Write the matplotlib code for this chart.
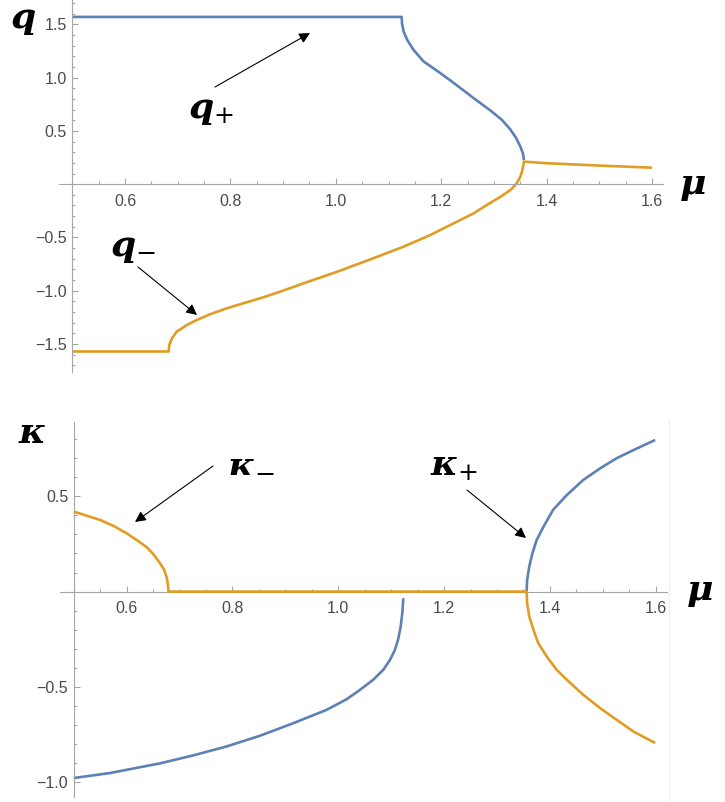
import numpy as np
import matplotlib
matplotlib.use('Agg')
import matplotlib.pyplot as plt
from matplotlib.ticker import FixedLocator, MultipleLocator, FuncFormatter

plt.rcParams['mathtext.fontset'] = 'dejavuserif'

# top panel: q+ (blue) and q- (orange) against mu
mu_qplus = [0.5, 1.125, 1.1256, 1.129, 1.136, 1.147, 1.166, 1.191, 1.217, 1.242, 1.267, 1.293,
            1.315, 1.331, 1.342, 1.350, 1.355, 1.357]
q_plus = [1.571, 1.571, 1.507, 1.429, 1.351, 1.265, 1.155, 1.069, 0.976, 0.882, 0.788, 0.694,
          0.605, 0.515, 0.435, 0.355, 0.29, 0.225]

mu_qminus = [0.5, 0.6827, 0.684, 0.689, 0.698, 0.717, 0.736, 0.761, 0.793, 0.824, 0.856,
             0.894, 0.938, 1.002, 1.065, 1.128, 1.179, 1.223, 1.261, 1.286, 1.312, 1.331, 1.343,
             1.350, 1.354, 1.357, 1.40, 1.45, 1.50, 1.55, 1.60]
q_minus = [-1.571, -1.571, -1.51, -1.448, -1.385, -1.323, -1.276, -1.222, -1.166, -1.119, -1.072,
           -1.010, -0.932, -0.823, -0.707, -0.588, -0.478, -0.369, -0.275, -0.197, -0.119, -0.056, 0.006,
           0.069, 0.131, 0.212, 0.197, 0.186, 0.175, 0.165, 0.155]

# bottom panel: kappa branches
mu_kblue_left = [0.5, 0.568, 0.663, 0.726, 0.789, 0.852, 0.915, 0.978, 1.016, 1.041, 1.066, 1.085,
                 1.098, 1.107, 1.113, 1.118, 1.121, 1.123]
k_blue_left = [-0.979, -0.953, -0.902, -0.860, -0.813, -0.757, -0.691, -0.621, -0.565, -0.516, -0.463, -0.411,
               -0.358, -0.306, -0.253, -0.184, -0.113, -0.035]

mu_kblue_right = [1.356, 1.357, 1.361, 1.367, 1.375, 1.388, 1.406, 1.432, 1.463, 1.495, 1.526, 1.558, 1.599]
k_blue_right = [0.0, 0.061, 0.131, 0.201, 0.271, 0.341, 0.429, 0.507, 0.586, 0.647, 0.700, 0.743, 0.796]

mu_korange = [0.5, 0.524, 0.550, 0.575, 0.600, 0.619, 0.638, 0.650, 0.663, 0.671, 0.676, 0.678, 0.679,
              1.356, 1.357, 1.361, 1.369, 1.378, 1.394, 1.413, 1.432, 1.463, 1.495, 1.526, 1.558, 1.599]
k_orange = [0.42, 0.399, 0.376, 0.345, 0.306, 0.271, 0.233, 0.198, 0.149, 0.114, 0.070, 0.035, 0.0,
            0.0, -0.061, -0.131, -0.201, -0.271, -0.341, -0.411, -0.463, -0.542, -0.612, -0.673, -0.735, -0.795]

x_major = [0.6, 0.8, 1.0, 1.2, 1.4, 1.6]
q_major = [-1.5, -1.0, -0.5, 0.5, 1.0, 1.5]
k_major = [-1.0, -0.5, 0.5]

blue = '#5e81b5'
orange = '#e19c24'
W, H = 725, 802


def fmt(v, pos):
    return ('%.1f' % v).replace('-', '\u2212')


def style_axes(ax, yticks):
    for side in ['top', 'right']:
        ax.spines[side].set_visible(False)
    ax.spines['left'].set_position(('data', 0.5))
    ax.spines['bottom'].set_position(('data', 0))
    for side in ['left', 'bottom']:
        ax.spines[side].set_color('#a6a6a6')
        ax.spines[side].set_linewidth(0.8)
    ax.xaxis.set_major_locator(FixedLocator(x_major))
    ax.xaxis.set_minor_locator(MultipleLocator(0.05))
    ax.yaxis.set_major_locator(FixedLocator(yticks))
    ax.yaxis.set_minor_locator(MultipleLocator(0.1))
    ax.xaxis.set_major_formatter(FuncFormatter(fmt))
    ax.yaxis.set_major_formatter(FuncFormatter(fmt))
    ax.tick_params(which='both', direction='in', color='#a6a6a6', width=0.8)
    ax.tick_params(which='major', length=4)
    ax.tick_params(which='minor', length=2.5)
    ax.tick_params(axis='x', pad=7)
    ax.tick_params(axis='y', pad=4)
    for lab in ax.get_xticklabels() + ax.get_yticklabels():
        lab.set_fontfamily('Liberation Sans')
        lab.set_fontsize(11.5)
        lab.set_color('#4a4a4a')
    ax.patch.set_visible(False)


def to_data(ax, x, y):
    # pixel position in the picture -> data coordinates of ax
    disp = fig.transFigure.transform((x / W, 1 - y / H))
    return ax.transData.inverted().transform(disp)


fig = plt.figure(figsize=(7.25, 8.02), dpi=100)
ax1 = fig.add_axes([58.6 / W, 1 - 371.6 / H, (663.1 - 58.6) / W, 371.6 / H])
ax2 = fig.add_axes([60.0 / W, 1 - 796.7 / H, (666.8 - 60.0) / W, 375.0 / H])

line = dict(lw=1.9, solid_capstyle='butt', solid_joinstyle='round')
ax1.plot(mu_qplus, q_plus, color=blue, **line)
ax1.plot(mu_qminus, q_minus, color=orange, **line)
ax1.set_xlim(0.474, 1.621)
ax1.set_ylim(-1.76, 1.73)
style_axes(ax1, q_major)

ax2.plot(mu_kblue_left, k_blue_left, color=blue, **line)
ax2.plot(mu_kblue_right, k_blue_right, color=blue, **line)
ax2.plot(mu_korange, k_orange, color=orange, zorder=3, **line)
ax2.set_xlim(0.474, 1.621)
ax2.set_ylim(-1.077, 0.892)
style_axes(ax2, k_major)

arrow = dict(arrowstyle='-|>', color='black', lw=0.8, mutation_scale=16, shrinkA=0, shrinkB=0)

# annotations (positions given in picture pixels)
for ax, tail, head in [(ax1, (215, 87), (310, 33)),
                       (ax1, (138, 267), (197, 315)),
                       (ax2, (213, 466), (135, 522)),
                       (ax2, (467, 490), (526, 538))]:
    ax.annotate('', xy=to_data(ax, *head), xytext=to_data(ax, *tail), arrowprops=arrow)

big = dict(fontsize=26, color='black', ha='center', va='center')
fig.text(211 / W, 1 - 110 / H, r'$\mathbfit{q}_{+}$', **big)
fig.text(133 / W, 1 - 248 / H, r'$\mathbfit{q}_{-}$', **big)
fig.text(251 / W, 1 - 462 / H, r'$\mathbfit{\kappa}_{-}$', **big)
fig.text(454 / W, 1 - 466 / H, r'$\mathbfit{\kappa}_{+}$', **big)

fig.text(23 / W, 1 - 20 / H, r'$\mathbfit{q}$', **big)
fig.text(693 / W, 1 - 186 / H, r'$\mathbfit{\mu}$', **big)
fig.text(32 / W, 1 - 433 / H, r'$\mathbfit{\kappa}$', **big)
fig.text(700 / W, 1 - 592 / H, r'$\mathbfit{\mu}$', **big)

# faint edge line seen at the right of the lower panel
fig.add_artist(plt.Line2D([669 / W, 669 / W], [1 - 800 / H, 1 - 420 / H],
                          transform=fig.transFigure, color='#f0f0f0', lw=0.8))

fig.savefig('out.png', dpi=100)
